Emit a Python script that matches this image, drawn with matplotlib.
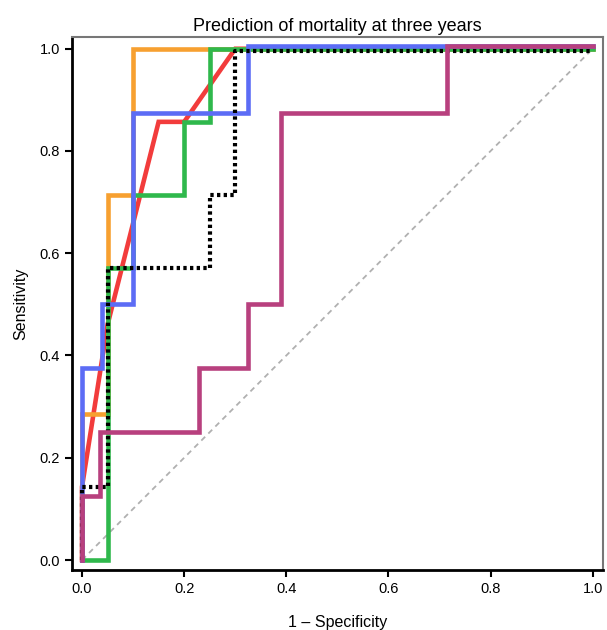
import matplotlib
matplotlib.use("Agg")
import matplotlib.pyplot as plt

plt.rcParams['font.family'] = ['Liberation Sans', 'DejaVu Sans']

title = "Prediction of mortality at three years"
xlabel = "1 \u2013 Specificity"
ylabel = "Sensitivity"
ticks = [0.0, 0.2, 0.4, 0.6, 0.8, 1.0]
tick_labels = ["0.0", "0.2", "0.4", "0.6", "0.8", "1.0"]

red_x = [0, 0, 0.05, 0.15, 0.2, 0.3, 1.0]
red_y = [0, 0.143, 0.46, 0.857, 0.857, 1.0, 1.0]

orange_x = [0, 0, 0.05, 0.05, 0.1, 0.1, 1.0]
orange_y = [0, 0.286, 0.286, 0.714, 0.714, 1.0, 1.0]

green_x = [0, 0.05, 0.05, 0.1, 0.1, 0.2, 0.2, 0.25, 0.25, 1.0]
green_y = [0, 0, 0.571, 0.571, 0.714, 0.714, 0.857, 0.857, 1.0, 1.0]

blue_x = [0, 0, 0.04, 0.04, 0.1, 0.1, 0.325, 0.325, 1.0]
blue_y = [0, 0.375, 0.375, 0.5, 0.5, 0.875, 0.875, 1.005, 1.005]

black_x = [0, 0, 0.05, 0.05, 0.25, 0.25, 0.3, 0.3, 1.0]
black_y = [0, 0.143, 0.143, 0.571, 0.571, 0.714, 0.714, 0.995, 0.995]

magenta_x = [0, 0, 0.035, 0.035, 0.23, 0.23, 0.325, 0.325, 0.39, 0.39, 0.715, 0.715, 1.0]
magenta_y = [0, 0.125, 0.125, 0.25, 0.25, 0.375, 0.375, 0.5, 0.5, 0.875, 0.875, 1.005, 1.005]

ref_x = [0, 1]
ref_y = [0, 1]

fig = plt.figure(figsize=(6.07, 6.30), dpi=100)
ax = fig.add_axes([0.1186, 0.0952, 0.8748, 0.8461])

ax.plot(ref_x, ref_y, color="#b0b0b0", lw=1.3, ls=(0, (3, 2.5)), zorder=1)
ax.plot(red_x, red_y, color="#f23c3c", lw=3.3, solid_joinstyle="miter", zorder=2)
ax.plot(orange_x, orange_y, color="#f7a030", lw=3.3, solid_joinstyle="miter", zorder=3)
ax.plot(green_x, green_y, color="#2fb84c", lw=3.3, solid_joinstyle="miter", zorder=4)
ax.plot(blue_x, blue_y, color="#5c6cf5", lw=3.3, solid_joinstyle="miter", zorder=5)
ax.plot(black_x, black_y, color="black", lw=3.0, ls=(0, (0.8, 0.8)), zorder=6)
ax.plot(magenta_x, magenta_y, color="#b8407e", lw=3.3, solid_joinstyle="miter", zorder=7)

ax.set_xlim(-0.0196, 1.02)
ax.set_ylim(-0.0196, 1.023)
ax.set_xticks(ticks)
ax.set_xticklabels(tick_labels)
ax.set_yticks(ticks)
ax.set_yticklabels(tick_labels)
ax.tick_params(axis="both", direction="out", length=5, width=1.5, labelsize=10.5, colors="black")

for s in ["left", "bottom"]:
    ax.spines[s].set_linewidth(2.0)
    ax.spines[s].set_color("black")
for s in ["top", "right"]:
    ax.spines[s].set_linewidth(1.5)
    ax.spines[s].set_color("#777777")

ax.set_title(title, fontsize=13, pad=4)
ax.set_xlabel(xlabel, fontsize=11.5, labelpad=14)
ax.set_ylabel(ylabel, fontsize=11.5, labelpad=8)

fig.savefig("out.png", dpi=100, facecolor="white")
